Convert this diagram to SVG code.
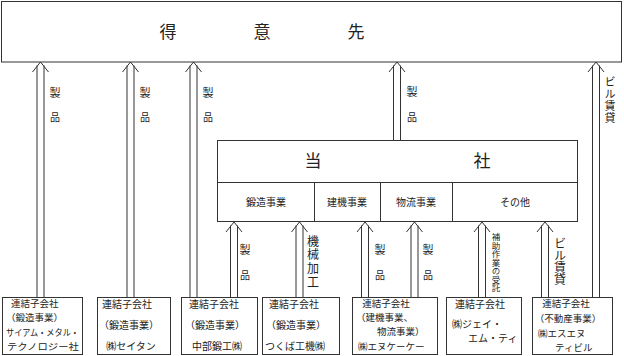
<svg xmlns="http://www.w3.org/2000/svg" width="624" height="356" viewBox="0 0 624 356">
<style>
.t{font-family:"Noto Sans CJK JP","Noto Sans CJK SC",sans-serif;fill:#222;text-anchor:middle}
.l{text-anchor:start}
.v{text-anchor:start;writing-mode:vertical-rl}
.box{fill:#fff;stroke:#333;stroke-width:1}
.arr{fill:none;stroke:#333;stroke-width:1}
.s10{font-size:10px}
.s9{font-size:9.5px}
</style>
<g id="customers">
<rect class="box" x="1.5" y="1.5" width="620" height="60.5" stroke-width="1.5"/>
<text class="t" x="168" y="38" font-size="17">得</text>
<text class="t" x="262" y="38" font-size="17">意</text>
<text class="t" x="356" y="38" font-size="17">先</text>
</g>
<g id="company">
<rect class="box" x="217.5" y="140.5" width="360" height="81"/>
<line class="arr" x1="217.5" y1="182.5" x2="577.5" y2="182.5"/>
<line class="arr" x1="314.5" y1="182.5" x2="314.5" y2="221.5"/>
<line class="arr" x1="380.5" y1="182.5" x2="380.5" y2="221.5"/>
<line class="arr" x1="452.5" y1="182.5" x2="452.5" y2="221.5"/>
<text class="t" x="313" y="167" font-size="17">当</text>
<text class="t" x="482" y="167" font-size="17">社</text>
<text class="t s10" x="266" y="206">鍛造事業</text>
<text class="t s10" x="347" y="206">建機事業</text>
<text class="t s10" x="416" y="206">物流事業</text>
<text class="t s10" x="515" y="206">その他</text>
</g>
<g id="sub1">
<rect class="box" x="2.5" y="297.5" width="80" height="57"/>
<text class="t l s9" x="11" y="307">連結子会社</text>
<text class="t l s9" x="6" y="321">（鍛造事業）</text>
<text class="t l" x="6" y="336" font-size="9" textLength="73" lengthAdjust="spacingAndGlyphs">サイアム・メタル・</text>
<text class="t l" x="7" y="350" font-size="9" textLength="72" lengthAdjust="spacingAndGlyphs">テクノロジー社</text>
</g>
<g id="sub2">
<rect class="box" x="97.5" y="297.5" width="73" height="57"/>
<text class="t s10" x="127" y="308">連結子会社</text>
<text class="t s10" x="129" y="329">（鍛造事業）</text>
<text class="t s10" x="131" y="350">㈱セイタン</text>
</g>
<g id="sub3">
<rect class="box" x="181.5" y="297.5" width="76" height="57"/>
<text class="t s10" x="214" y="308">連結子会社</text>
<text class="t s10" x="215" y="329">（鍛造事業）</text>
<text class="t s10" x="217" y="350">中部鍛工㈱</text>
</g>
<g id="sub4">
<rect class="box" x="262.5" y="297.5" width="77" height="57"/>
<text class="t s10" x="294" y="308">連結子会社</text>
<text class="t s10" x="296" y="329">（鍛造事業）</text>
<text class="t s10" x="295" y="350">つくば工機㈱</text>
</g>
<g id="sub5">
<rect class="box" x="352.5" y="297.5" width="85" height="57"/>
<text class="t s9" x="386" y="307">連結子会社</text>
<text class="t l s9" x="356" y="321">（建機事業、</text>
<text class="t l s9" x="377" y="335">物流事業）</text>
<text class="t l s9" x="358" y="350">㈱エヌケーケー</text>
</g>
<g id="sub6">
<rect class="box" x="446.5" y="297.5" width="75" height="57"/>
<text class="t s10" x="480" y="308">連結子会社</text>
<text class="t l s10" x="452" y="328">㈱ジェイ・</text>
<text class="t l s10" x="468" y="342">エム・ティ</text>
</g>
<g id="sub7">
<rect class="box" x="532.5" y="297.5" width="80" height="57"/>
<text class="t s9" x="566" y="307">連結子会社</text>
<text class="t s9" x="568" y="322">（不動産事業）</text>
<text class="t l s9" x="538" y="337">㈱エスエヌ</text>
<text class="t l s9" x="555" y="351">ティビル</text>
</g>
<g id="connectors">
<path class="arr" d="M32.5 72 L40.5 62 L48.5 72 M37 65.5 V297 M44 65.5 V297"/>
<path class="arr" d="M122.5 72 L130.5 62 L138.5 72 M127 65.5 V297 M134 65.5 V297"/>
<path class="arr" d="M185.5 72 L193.5 62 L201.5 72 M190 65.5 V297 M197 65.5 V297"/>
<path class="arr" d="M389 72 L397 62 L405 72 M393.5 65.5 V140 M400.5 65.5 V140"/>
<path class="arr" d="M588 72 L596 62 L604 72 M592.5 65.5 V297 M599.5 65.5 V297"/>
<path class="arr" d="M226 232 L234 222 L242 232 M230.5 225.5 V297 M237.5 225.5 V297"/>
<path class="arr" d="M291.5 232 L299.5 222 L307.5 232 M296 225.5 V297 M303 225.5 V297"/>
<path class="arr" d="M357 232 L365 222 L373 232 M361.5 225.5 V297 M368.5 225.5 V297"/>
<path class="arr" d="M406.5 232 L414.5 222 L422.5 232 M411 225.5 V297 M418 225.5 V297"/>
<path class="arr" d="M474 232 L482 222 L490 232 M478.5 225.5 V297 M485.5 225.5 V297"/>
<path class="arr" d="M537 232 L545 222 L553 232 M541.5 225.5 V297 M548.5 225.5 V297"/>
</g>
<g id="labels">
<text class="t" x="55" y="97" font-size="11">製</text><text class="t" x="55" y="121" font-size="10">品</text>
<text class="t" x="145" y="97" font-size="11">製</text><text class="t" x="145" y="121" font-size="10">品</text>
<text class="t" x="208" y="97" font-size="11">製</text><text class="t" x="208" y="121" font-size="10">品</text>
<text class="t" x="412" y="96" font-size="11">製</text><text class="t" x="412" y="121" font-size="10">品</text>
<text class="t v" x="610" y="76" font-size="11" letter-spacing="1">ビル賃貸</text>
<text class="t" x="245" y="254" font-size="11">製</text><text class="t" x="245" y="279" font-size="10">品</text>
<text class="t" x="380" y="254" font-size="11">製</text><text class="t" x="380" y="279" font-size="10">品</text>
<text class="t" x="428" y="254" font-size="11">製</text><text class="t" x="428" y="279" font-size="10">品</text>
<text class="t v" x="313" y="235" font-size="12" letter-spacing="1.75">機械加工</text>
<text class="t v" x="496" y="233" font-size="8.5">補助作業の受託</text>
<text class="t v" x="560" y="237" font-size="12" letter-spacing="0.3">ビル賃貸</text>
</g>
</svg>
